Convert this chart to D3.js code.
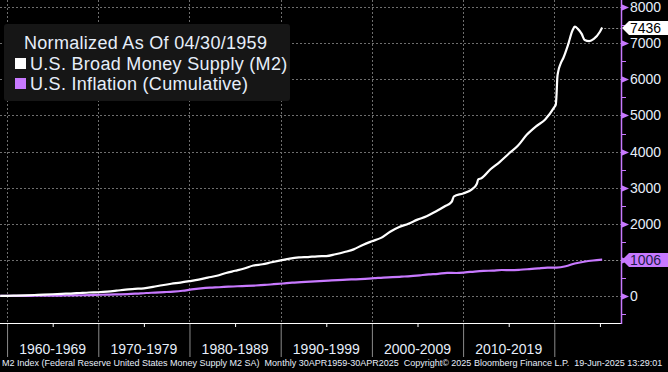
<!doctype html>
<html lang='en'>
  <head>
    <meta charset="utf-8">
    <script src="https://d3js.org/d3.v7.min.js"></script>
    <title>M2 vs Inflation</title>
  <style>
  body {
    margin: 0;
    background-color: #000;
  }
  svg {
    display: block;
    font-family: "Liberation Sans", Arial, sans-serif;
  }
  .grid line {
    stroke: #6e6e6e;
    stroke-dasharray: 2,2;
  }
  </style>
  </head>
  <body>
    <div id='chart'></div>
    <script>
    // decade labels on the x axis
    const decades = ['1960-1969','1970-1979','1980-1989','1990-1999','2000-2009','2010-2019'];

    // M2, cumulative % change since 04/1959
    const m2Dates = ['1959-04','1960-01','1961-01','1962-01','1963-01','1964-01','1965-01','1966-01','1967-01','1968-01',
      '1969-01','1970-01','1971-01','1972-01','1973-01','1974-01','1975-01','1976-01','1977-01','1978-01',
      '1979-01','1980-01','1981-01','1982-01','1983-01','1984-01','1985-01','1986-01','1987-01','1988-01',
      '1989-01','1990-01','1991-01','1992-01','1993-01','1994-01','1995-01','1996-01','1997-01','1998-01',
      '1999-01','2000-01','2001-01','2002-01','2003-01','2004-01','2005-01','2006-01','2007-01','2008-01',
      '2008-10','2009-01','2010-01','2011-01','2011-07','2011-09','2012-01','2013-01','2014-01','2015-01','2016-01',
      '2017-01','2018-01','2019-01','2020-01','2020-03','2020-04','2020-05','2020-06','2020-09','2021-01',
      '2021-07','2022-01','2022-04','2022-08','2023-01','2023-05','2023-11','2024-05','2025-01','2025-04'];
    const m2Values = [0,3,8,16,26,36,47,58,66,81,
      95,102,117,145,177,195,211,250,297,338,
      371,410,452,506,558,634,697,761,843,877,
      933,985,1035,1066,1078,1098,1103,1155,1217,1290,
      1414,1515,1609,1779,1907,2003,2114,2210,2341,2486,
      2610,2760,2840,2960,3100,3230,3260,3510,3710,3940,4160,
      4470,4700,4890,5230,5300,5600,6050,6200,6420,6600,
      6950,7360,7460,7400,7260,7090,7060,7120,7320,7436];

    // CPI, cumulative % change since 04/1959
    const cpiDates = ['1959-04','1960-04','1961-04','1962-04','1963-04','1964-04','1965-04','1966-04','1967-04','1968-04',
      '1969-04','1970-04','1971-04','1972-04','1973-04','1974-04','1975-04','1976-04','1977-04','1978-04',
      '1979-04','1980-04','1981-04','1982-04','1983-04','1984-04','1985-04','1986-04','1987-04','1988-04',
      '1989-04','1990-04','1991-04','1992-04','1993-04','1994-04','1995-04','1996-04','1997-04','1998-04',
      '1999-04','2000-04','2001-04','2002-04','2003-04','2004-04','2005-04','2006-04','2007-04','2008-04',
      '2009-04','2010-04','2011-04','2012-04','2013-04','2014-04','2015-04','2016-04','2017-04','2018-04',
      '2019-04','2020-04','2021-04','2022-04','2023-04','2024-04','2025-04'];
    const cpiValues = [0,2,3,4,5,7,8,12,14,19,
      25,33,38,43,50,65,82,93,106,121,
      144,180,208,228,240,256,269,277,289,304,
      325,345,367,381,396,409,424,440,453,461,
      474,491,510,520,534,549,572,595,613,641,
      636,652,676,694,702,718,716,726,744,764,
      782,785,822,898,947,982,1006];

    // right axis ticks
    const yTicks = [0,1000,2000,3000,4000,5000,6000,7000,8000];

    const legendTitle = 'Normalized As Of 04/30/1959';
    const seriesNames = ['U.S. Broad Money Supply (M2)', 'U.S. Inflation (Cumulative)'];
    const footer = 'M2 Index (Federal Reserve United States Money Supply M2 SA)  Monthly 30APR1959-30APR2025  Copyright\u00a9 2025 Bloomberg Finance L.P.  19-Jun-2025 13:29:01';

    const W = 668, H = 372;
    const plotR = 621, plotB = 323;
    const purple = '#c879ff';
    const textCol = '#e6eefa';

    const parse = d3.timeParse('%Y-%m');
    const m2 = m2Dates.map((d,i) => ({date: parse(d), v: m2Values[i]}));
    const cpi = cpiDates.map((d,i) => ({date: parse(d), v: cpiValues[i]}));

    const x = d3.scaleTime()
      .domain([new Date(1959, 2, 24), new Date(2027, 3, 25)])
      .range([0, plotR]);
    const y = d3.scaleLinear()
      .domain([-750, 8200])
      .range([plotB, 0]);

    const svg = d3.select('#chart').append('svg')
      .attr('width', W).attr('height', H);

    const decadeStarts = d3.range(1960, 2021, 10).map(yr => new Date(yr, 0, 1));
    const halfDecades = d3.range(1965, 2026, 10).map(yr => new Date(yr, 0, 1));

    // grid
    const grid = svg.append('g').attr('class', 'grid');
    grid.selectAll('.h').data(yTicks).enter().append('line')
      .attr('x1', 0).attr('x2', plotR)
      .attr('y1', d => Math.round(y(d)) + 0.5).attr('y2', d => Math.round(y(d)) + 0.5);
    grid.selectAll('.v').data(decadeStarts).enter().append('line')
      .attr('x1', d => Math.round(x(d)) + 0.5).attr('x2', d => Math.round(x(d)) + 0.5)
      .attr('y1', 0).attr('y2', plotB);

    // x axis
    const xMajor = svg.append('g')
      .attr('transform', 'translate(0,' + plotB + ')')
      .call(d3.axisBottom(x).tickValues(decadeStarts).tickSize(34).tickFormat(''));
    xMajor.select('.domain').remove();
    xMajor.selectAll('line').attr('stroke', '#8a8a8a');

    const xMinor = svg.append('g')
      .attr('transform', 'translate(0,' + plotB + ')')
      .call(d3.axisBottom(x).tickValues(halfDecades).tickSize(4).tickFormat(''));
    xMinor.select('.domain').remove();
    xMinor.selectAll('line').attr('stroke', '#fff');

    svg.append('line')
      .attr('x1', 0).attr('x2', plotR)
      .attr('y1', plotB + 0.5).attr('y2', plotB + 0.5)
      .attr('stroke', '#fff');

    svg.selectAll('.decade').data(decades).enter().append('text')
      .attr('x', (d,i) => x(new Date(1965 + i * 10, 0, 1)))
      .attr('y', 354)
      .attr('text-anchor', 'middle')
      .attr('fill', textCol)
      .style('font-size', '14px')
      .text(d => d);

    // last values, shown as tags on the axis
    const tagged = [cpi[cpi.length - 1].v, m2[m2.length - 1].v];

    // right axis (labels hidden where a tag sits on them)
    const yAxis = svg.append('g')
      .attr('transform', 'translate(' + plotR + ',0)')
      .call(d3.axisRight(y)
        .tickValues(yTicks.filter(t => !tagged.some(v => Math.abs(y(v) - y(t)) < 13)))
        .tickSize(0).tickPadding(9).tickFormat(d3.format('d')));
    yAxis.select('.domain').remove();
    yAxis.selectAll('text')
      .attr('fill', textCol)
      .style('font-size', '14px')
      .style('font-family', '"Liberation Sans", Arial, sans-serif');

    const minorY = d3.range(-500, 8001, 500).filter(d => d % 1000 !== 0);
    svg.append('g')
      .attr('transform', 'translate(' + plotR + ',0)')
      .selectAll('line').data(minorY).enter().append('line')
      .attr('x1', 0).attr('x2', 5)
      .attr('y1', d => Math.round(y(d)) + 0.5).attr('y2', d => Math.round(y(d)) + 0.5)
      .attr('stroke', purple);
    svg.append('g')
      .selectAll('path').data(yTicks).enter().append('path')
      .attr('d', d => {
        const yy = Math.round(y(d)) + 0.5;
        return 'M' + plotR + ',' + (yy - 3.5) + 'L' + (plotR + 8) + ',' + yy + 'L' + plotR + ',' + (yy + 3.5) + 'Z';
      })
      .attr('fill', purple);
    svg.append('line')
      .attr('x1', plotR + 0.5).attr('x2', plotR + 0.5)
      .attr('y1', 0).attr('y2', plotB + 1)
      .attr('stroke', purple).attr('stroke-width', 1.5);

    // lines
    const line = d3.line().x(d => x(d.date)).y(d => y(d.v)).curve(d3.curveMonotoneX);
    svg.append('path').datum(cpi)
      .attr('fill', 'none').attr('stroke', purple).attr('stroke-width', 2.2)
      .attr('d', line);
    svg.append('path').datum(m2)
      .attr('fill', 'none').attr('stroke', '#fff').attr('stroke-width', 2.2)
      .attr('d', line);

    function tag(series, fill, textFill) {
      const last = series[series.length - 1];
      const ly = y(last.v);
      svg.append('line')
        .attr('x1', x(last.date) + 2).attr('x2', plotR)
        .attr('y1', Math.round(ly) + 0.5).attr('y2', Math.round(ly) + 0.5)
        .attr('stroke', '#8a8a8a').attr('stroke-dasharray', '2,2');
      const t = Math.round(ly) - 7, b = Math.round(ly) + 7;
      svg.append('path')
        .attr('d', 'M' + (plotR + 1) + ',' + (t + b) / 2 + 'L' + (plotR + 8) + ',' + t + 'L' + W + ',' + t +
          'L' + W + ',' + b + 'L' + (plotR + 8) + ',' + b + 'Z')
        .attr('fill', fill);
      svg.append('text')
        .attr('x', plotR + 9).attr('y', b - 2)
        .attr('fill', textFill)
        .style('font-size', '14px')
        .text(d3.format('d')(last.v));
    }
    tag(cpi, purple, '#1c1c4a');
    tag(m2, '#fff', '#000');

    // legend
    const lg = svg.append('g');
    lg.append('rect')
      .attr('x', 4).attr('y', 24).attr('width', 286).attr('height', 77)
      .attr('rx', 3).attr('fill', '#161616');
    lg.append('text')
      .attr('x', 24).attr('y', 49)
      .attr('fill', textCol)
      .style('font-size', '18px')
      .style('letter-spacing', '0.3px')
      .text(legendTitle);
    const swatch = ['#fff', purple];
    seriesNames.forEach((name, i) => {
      lg.append('rect')
        .attr('x', 15).attr('y', 58 + i * 20).attr('width', 11).attr('height', 11)
        .attr('fill', swatch[i]);
      lg.append('text')
        .attr('x', 30).attr('y', 69.5 + i * 20)
        .attr('fill', textCol)
        .style('font-size', '18px')
        .style('letter-spacing', '0.3px')
        .text(name);
    });

    // footer
    svg.append('text')
      .attr('x', 2).attr('y', 366)
      .attr('fill', textCol)
      .style('font-size', '9px')
      .style('white-space', 'pre')
      .text(footer);
    </script>
  </body>
</html>
